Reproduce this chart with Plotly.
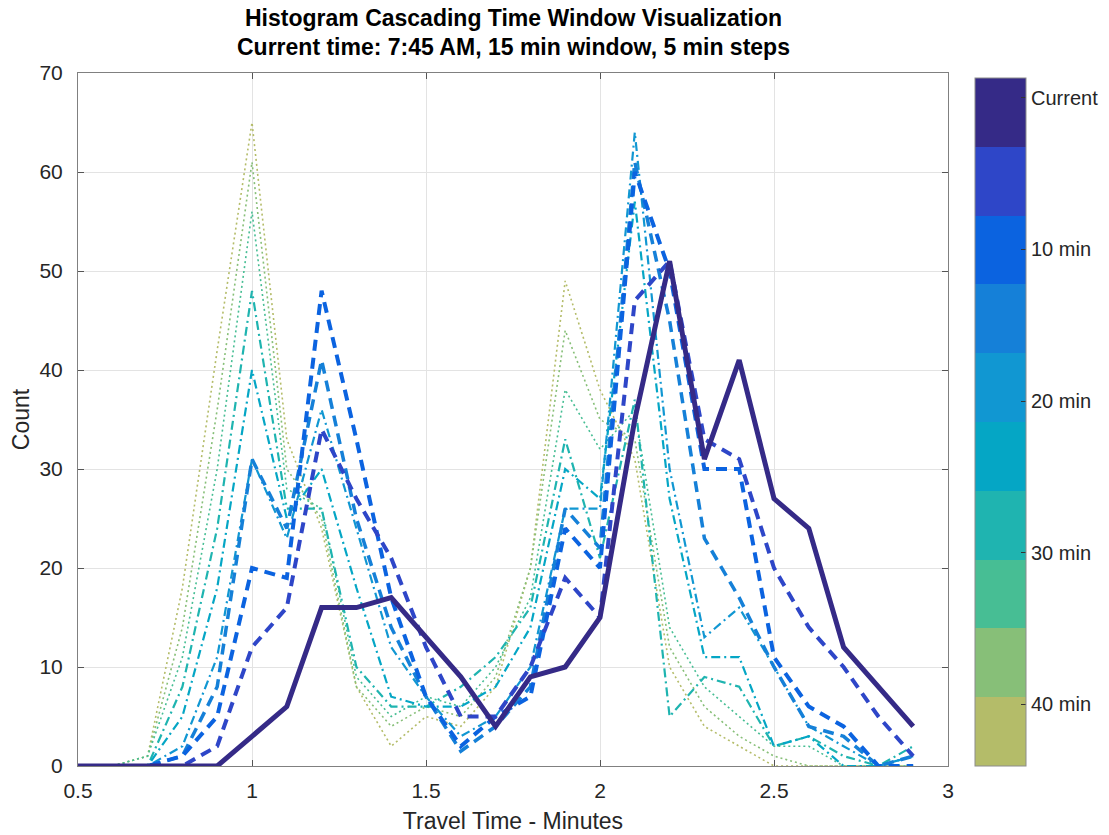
import plotly.graph_objects as go

# Travel-time bins (minutes)
bins = [0.5, 0.6, 0.7, 0.8, 0.9, 1.0, 1.1, 1.2, 1.3, 1.4, 1.5, 1.6, 1.7, 1.8, 1.9,
        2.0, 2.1, 2.2, 2.3, 2.4, 2.5, 2.6, 2.7, 2.8, 2.9]

# Counts per time window (Current = newest)
current = [0, 0, 0, 0, 0, 3, 6, 16, 16, 17, 13, 9, 4, 9, 10, 15, 35, 51, 31, 41, 27, 24, 12, 8, 4]
min5 = [0, 0, 0, 0, 2, 12, 16, 34, 27, 21, 12, 5, 5, 10, 19, 15, 47, 51, 33, 31, 20, 14, 10, 5, 1]
min10 = [0, 0, 0, 1, 5, 20, 19, 48, 33, 17, 7, 2, 5, 7, 24, 20, 60, 50, 30, 30, 11, 6, 4, 0, 0]
min15 = [0, 0, 0, 1, 8, 31, 24, 41, 25, 14, 7, 1.5, 4, 8, 26, 22, 61, 45, 23, 17, 10, 4, 3, 0, 1]
min20 = [0, 0, 0, 2, 11, 31, 23, 36, 24, 12, 7, 3, 5, 10, 26, 26, 64, 30, 13, 16, 10, 4, 2, 0, 1]
min25 = [0, 0, 0, 5, 18, 40, 25, 30, 18, 7, 6, 6, 8, 14, 30, 27, 57, 27, 11, 11, 2, 3, 0, 0, 1]
min30 = [0, 0, 0, 8, 24, 48, 26, 26, 10, 6, 6, 8, 11, 16, 33, 21, 37, 5, 9, 8, 2, 3, 1, 0, 2]
min35 = [0, 0, 1, 11, 30, 56, 28, 26, 9, 5, 7, 6, 10, 17, 38, 32, 36, 14, 8, 5, 2, 2, 0, 0, 0]
min40 = [0, 0, 1, 14, 36, 61, 30, 25, 8, 4, 6, 5, 9, 20, 44, 35, 33, 12, 6, 3, 1, 0, 0, 0, 0]
min45 = [0, 0, 1, 18, 42, 65, 33, 24, 8, 2, 5, 4, 8, 20, 49, 38, 31, 10, 4, 2, 0, 0, 0, 0, 0]

window_names = ["Current", "5 min", "10 min", "15 min", "20 min",
                "25 min", "30 min", "35 min", "40 min", "45 min"]
window_values = [current, min5, min10, min15, min20, min25, min30, min35, min40, min45]
window_colors = ["#352a87", "#2e46c8", "#0b63e0", "#1580d8", "#1197d2",
                 "#05a6c5", "#1fb4b0", "#47be94", "#87bf78", "#b4bc69"]
window_widths = [5, 4, 4, 3.5, 2.2, 2.2, 2.2, 1.6, 1.6, 1.6]
window_dashes = ["solid", "11px,7px", "11px,7px", "11px,7px",
                 "9px,4px,2px,4px", "9px,4px,2px,4px", "9px,4px,2px,4px",
                 "2px,3px", "2px,3px", "2px,3px"]

cbar_ticktext = ["Current", "10 min", "20 min", "30 min", "40 min"]
cbar_tickvals = [0.971, 0.751, 0.530, 0.310, 0.090]

title_lines = ["Histogram Cascading Time Window Visualization",
               "Current time: 7:45 AM, 15 min window, 5 min steps"]

FONT = "Liberation Sans, Arial"

fig = go.Figure()

# draw oldest first so the current window is on top
for name, vals, col, w, d in reversed(list(zip(window_names, window_values, window_colors,
                                               window_widths, window_dashes))):
    fig.add_trace(go.Scatter(x=bins, y=vals, mode="lines", name=name,
                             line=dict(color=col, width=w, dash=d),
                             showlegend=False))

# discrete colour bar (navy at top)
cs = []
bottom_to_top = list(reversed(window_colors))
for i, c in enumerate(bottom_to_top):
    cs.append([i / 10, c])
    cs.append([(i + 1) / 10, c])

fig.add_trace(go.Scatter(
    x=[1.0], y=[-50], mode="markers", showlegend=False, hoverinfo="skip",
    marker=dict(color=[0.5], cmin=0, cmax=1, colorscale=cs, showscale=True, opacity=0,
                colorbar=dict(
                    x=975 / 1109, xref="container", xanchor="left",
                    thickness=51, thicknessmode="pixels", xpad=0, ypad=0,
                    y=0, yanchor="bottom", len=688 / 693, lenmode="fraction",
                    tickvals=cbar_tickvals, ticktext=cbar_ticktext,
                    ticks="inside", ticklen=5, tickcolor="#333333",
                    outlinecolor="#8c8c8c", outlinewidth=1,
                    tickfont=dict(family=FONT, size=20, color="#262626"),
                ))))

axis_font = dict(family=FONT, size=21, color="#262626")
label_font = dict(family=FONT, size=23, color="#262626")

# two-line bold title
for txt, ypix in zip(title_lines, [18, 47]):
    fig.add_annotation(text="<b>" + txt + "</b>", xref="paper", x=0.5, xanchor="center",
                       yref="paper", y=1 + (73 - ypix) / 693, yanchor="middle",
                       showarrow=False, font=dict(family=FONT, size=23, color="#000000"))

fig.update_layout(
    width=1109, height=835,
    margin=dict(l=78, r=161, t=73, b=69, autoexpand=False),
    paper_bgcolor="white", plot_bgcolor="white",
    xaxis=dict(range=[0.5, 3], dtick=0.5, tick0=0.5, showgrid=True, automargin=False,
               gridcolor="#e3e3e3", gridwidth=1, zeroline=False,
               showline=True, linecolor="#808080", linewidth=1, mirror="ticks",
               ticks="inside", ticklen=6, tickcolor="#555555",
               tickfont=axis_font, ticklabelstandoff=6,
               title=dict(text="Travel Time - Minutes", font=label_font, standoff=11)),
    yaxis=dict(range=[0, 70], dtick=10, showgrid=True, automargin=False,
               gridcolor="#e3e3e3", gridwidth=1, zeroline=False,
               showline=True, linecolor="#808080", linewidth=1, mirror="ticks",
               ticks="inside", ticklen=6, tickcolor="#555555",
               tickfont=axis_font, ticklabelstandoff=10,
               title=dict(text="Count", font=label_font, standoff=3)),
)

fig.write_html("out.html")
